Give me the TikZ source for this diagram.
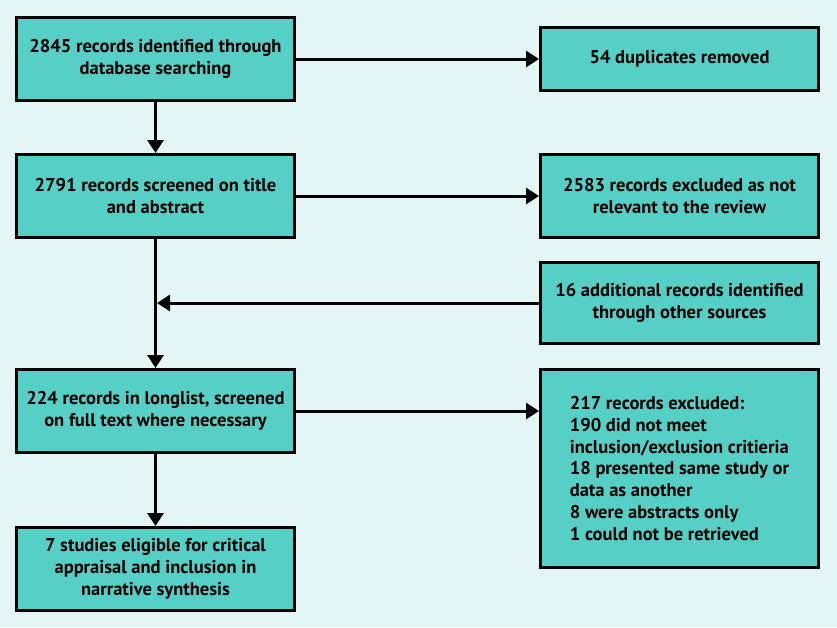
\documentclass[tikz,border=0pt]{standalone}
\usepackage{fontspec}
\setmainfont{PT Sans}
\definecolor{bg}{HTML}{E3F6F5}
\definecolor{rec}{HTML}{56CFC7}
\usetikzlibrary{
  positioning,     % positions like below of node
  arrows.meta      % filled triangle tips
}
\tikzset{
    node distance=51pt and 243pt,
    record/.style = {
        rectangle,
        draw,
        fill = rec,
        line width = 3pt,
        minimum width=278pt,
        minimum height=83pt,
        align=center,
        inner sep = 4pt,
        font=\bfseries\fontsize{18.5}{21.7}\selectfont
    },
    every edge/.style = {->,draw},
    ->,        % arrows for all
    >={Triangle[length=13pt,width=16pt]}  % arrow type
}

\begin{document}
\begin{tikzpicture}[x=1pt,y=1pt,line width=3pt]
  \fill [bg] (0,0) rectangle (837,-627);
  \useasboundingbox (0,0) rectangle (837,-627);

  %% main column
  \node [record] (ident) at (155.5,-59) {2845 records identified through\\database searching};
  \node [record, below=of ident] (screen) {2791 records screened on title\\and abstract};
  \node [record, below=129pt of screen] (longlist) {224 records in longlist, screened\\on full text where necessary};
  \node [record, below=72pt of longlist] (eligible) {7 studies eligible for critical\\appraisal and inclusion in\\narrative synthesis};

  %% side boxes
  \node [record, minimum height=63pt, right=of ident] (dupl) {54 duplicates removed};
  \node [record, right=of screen] (notrel) {2583 records excluded as not\\relevant to the review};
  \node [record, minimum height=81pt, below=22pt of notrel] (other) {16 additional records identified\\through other sources};
  \node [record, minimum height=198pt, align=left, right=of longlist.north east, anchor=north west] (excl) {217 records excluded:\\190 did not meet\\inclusion/exclusion critieria\\18 presented same study or\\data as another\\8 were abstracts only\\1 could not be retrieved};

  %% arrows
  \draw (ident) to (dupl);
  \draw (ident) to (screen);
  \draw (screen) to (notrel);
  \draw (screen) to (longlist);
  \coordinate [xshift=1.5pt] (join) at (screen |- other);
  \draw (other) to (join);
  \draw (longlist.east) to (longlist.east -| excl.west);
  \draw (longlist) to (eligible);

\end{tikzpicture}
\end{document}
